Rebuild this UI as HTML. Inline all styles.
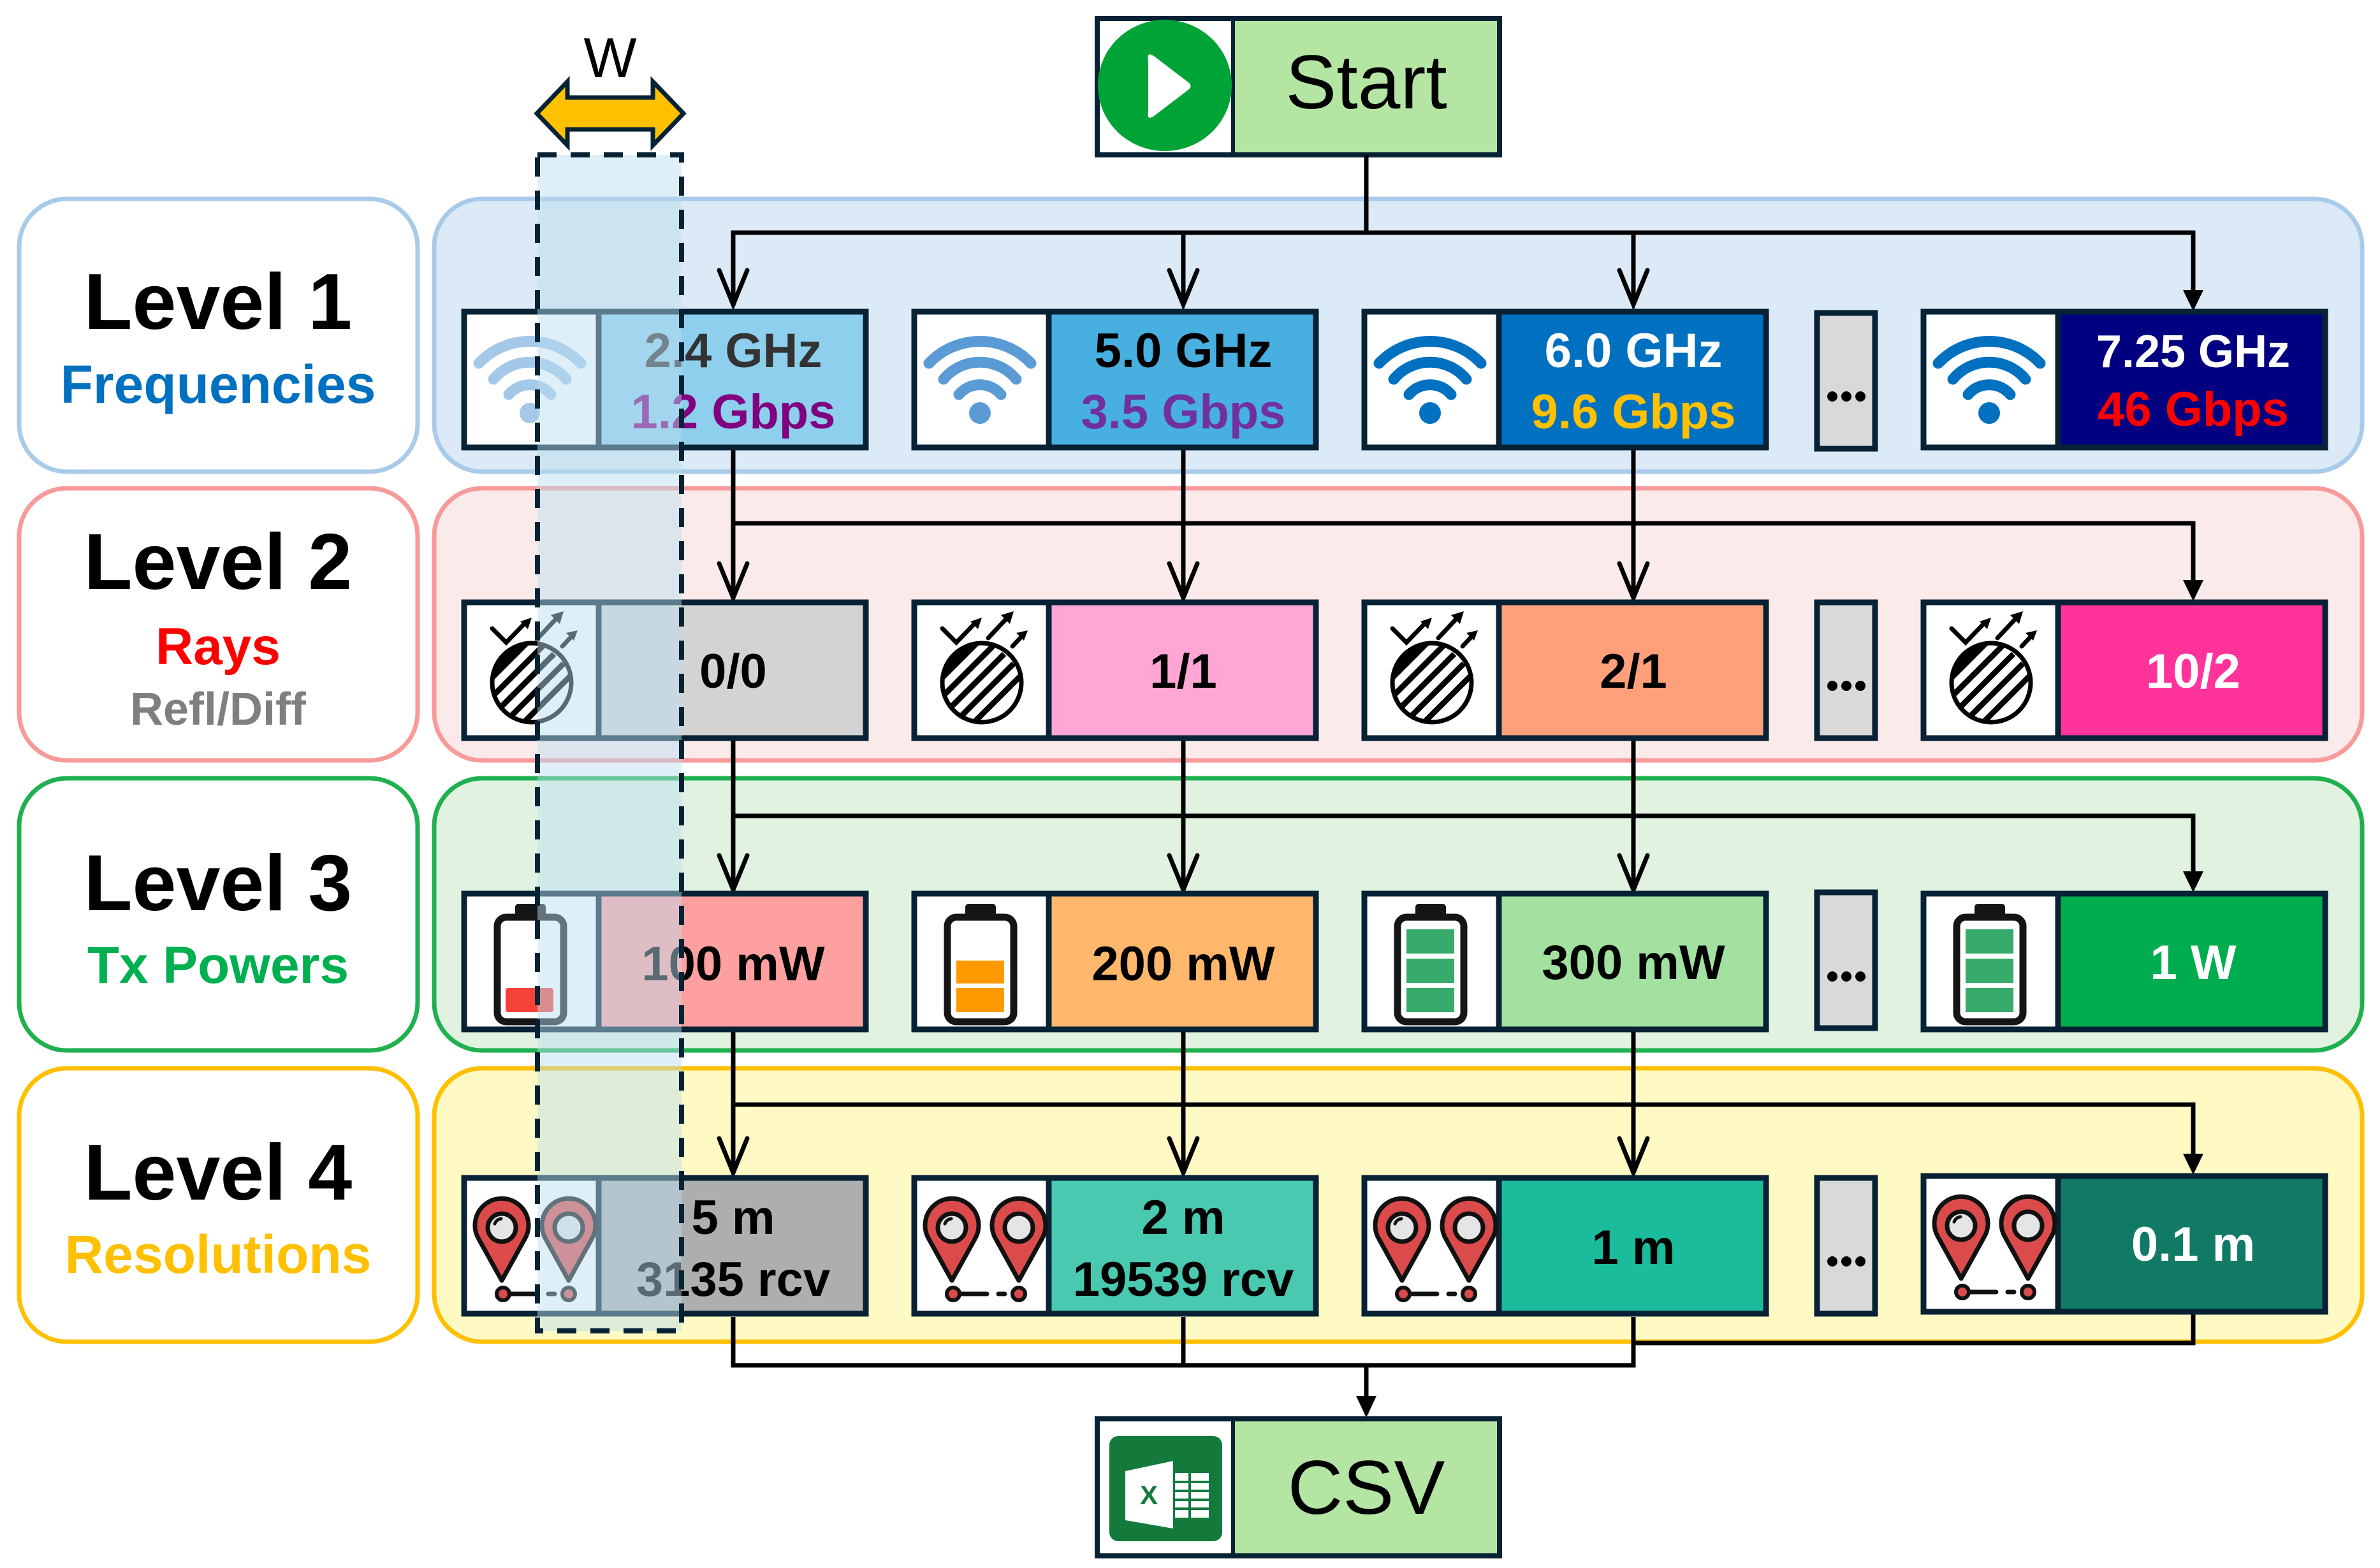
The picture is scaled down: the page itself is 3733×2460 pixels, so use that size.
<!DOCTYPE html>
<html><head><meta charset="utf-8"><style>
html,body{margin:0;padding:0;background:#fff}
svg{display:block}
text{font-family:"Liberation Sans",Arial,sans-serif}
</style></head><body>
<svg width="3733" height="2460" viewBox="0 0 3733 2460" xmlns="http://www.w3.org/2000/svg">
<defs>
<symbol id="wifiL" viewBox="0 0 215 220"><g fill="none" stroke="#a4c8e8" stroke-width="17" stroke-linecap="round"><path d="M27,85 A110,110 0 0 1 187,85"/><path d="M50,110 A74,74 0 0 1 164,110"/><path d="M74,134 A43,43 0 0 1 140,134"/></g><circle cx="107" cy="163" r="16" fill="#a4c8e8"/></symbol>
<symbol id="wifiM" viewBox="0 0 215 220"><g fill="none" stroke="#5b9bd5" stroke-width="17" stroke-linecap="round"><path d="M27,85 A110,110 0 0 1 187,85"/><path d="M50,110 A74,74 0 0 1 164,110"/><path d="M74,134 A43,43 0 0 1 140,134"/></g><circle cx="107" cy="163" r="17" fill="#5b9bd5"/></symbol>
<symbol id="wifiD" viewBox="0 0 215 220"><g fill="none" stroke="#0070c0" stroke-width="17" stroke-linecap="round"><path d="M27,85 A110,110 0 0 1 187,85"/><path d="M50,110 A74,74 0 0 1 164,110"/><path d="M74,134 A43,43 0 0 1 140,134"/></g><circle cx="107" cy="163" r="17" fill="#0070c0"/></symbol>
<symbol id="rays" viewBox="0 0 215 220">
<clipPath id="cc"><circle cx="110" cy="130" r="62"/></clipPath>
<circle cx="110" cy="130" r="62" fill="#fff"/>
<g clip-path="url(#cc)" stroke="#000" stroke-width="9"><path d="M30,140 L110,60 M40,160 L130,70 M50,180 L145,85 M65,195 L160,100 M80,210 L175,115"/><path d="M20,120 L100,40" stroke-width="40"/></g>
<circle cx="110" cy="130" r="62" fill="none" stroke="#000" stroke-width="7"/>
<g stroke="#000" stroke-width="7" fill="none" stroke-linecap="round"><path d="M48,45 L70,67 L98,38"/><path d="M120,60 L150,28"/><path d="M158,73 L172,58"/></g>
<g fill="#000"><path d="M110,28 L92,34 L104,46Z"/><path d="M160,18 L140,24 L154,38Z"/><path d="M182,48 L164,52 L176,64Z"/></g>
</symbol>
<symbol id="pins" viewBox="0 0 215 220">
<g stroke="#111" stroke-width="7" stroke-linejoin="round"><path d="M63,165 L27,100 A42,42 0 1 1 99,100 Z" fill="#dc4b4b"/><path d="M168,165 L132,100 A42,42 0 1 1 204,100 Z" fill="#dc4b4b"/><circle cx="63" cy="82" r="22" fill="#e5e5e5"/><circle cx="168" cy="82" r="22" fill="#e5e5e5"/></g>
<path d="M52,76 A12,12 0 0 1 62,68" stroke="#111" stroke-width="5" fill="none" stroke-linecap="round"/>
<g stroke="#111" stroke-width="7" stroke-linecap="round"><path d="M70,186 L118,186"/><path d="M136,186 L146,186"/></g>
<circle cx="65" cy="186" r="10" fill="#dc4b4b" stroke="#111" stroke-width="6"/><circle cx="168" cy="186" r="10" fill="#dc4b4b" stroke="#111" stroke-width="6"/>
</symbol>
<symbol id="bat" viewBox="0 0 215 220"><rect x="84" y="20" width="48" height="26" rx="5" fill="#151515"/><rect x="56" y="41" width="104" height="164" rx="14" fill="#fff" stroke="#151515" stroke-width="11"/></symbol>
</defs>

<!-- Start -->
<rect x="1721" y="29" width="631" height="214" fill="#b4e5a2" stroke="#072235" stroke-width="8"/>
<rect x="1725" y="33" width="209" height="206" fill="#fff"/>
<line x1="1934" y1="29" x2="1934" y2="243" stroke="#072235" stroke-width="6"/>
<ellipse cx="1827" cy="134" rx="105" ry="103" fill="#00a335"/>
<path d="M1801,95 Q1798,80 1810,88 L1865,130 Q1870,135 1865,140 L1810,182 Q1798,190 1801,175Z" fill="#fff"/>
<text x="2143" y="170" font-size="120" text-anchor="middle" fill="#000">Start</text>

<!-- Left labels -->
<g stroke-width="7">
<rect x="30" y="312" width="625" height="428" rx="75" fill="#fff" stroke="#a9cbea"/>
<rect x="30" y="766" width="625" height="427" rx="75" fill="#fff" stroke="#f89a9a"/>
<rect x="30" y="1221" width="625" height="427" rx="75" fill="#fff" stroke="#1fb050"/>
<rect x="30" y="1676" width="625" height="429" rx="75" fill="#fff" stroke="#ffc000"/>
</g>
<g font-weight="bold" text-anchor="middle">
<text x="342" y="516" font-size="124" fill="#000">Level 1</text>
<text x="342" y="632" font-size="84" fill="#0070c0">Frequencies</text>
<text x="342" y="924" font-size="124" fill="#000">Level 2</text>
<text x="342" y="1042" font-size="82" fill="#ff0000">Rays</text>
<text x="342" y="1137" font-size="72" fill="#7f7f7f">Refl/Diff</text>
<text x="342" y="1428" font-size="124" fill="#000">Level 3</text>
<text x="342" y="1542" font-size="82" fill="#00b050">Tx Powers</text>
<text x="342" y="1882" font-size="124" fill="#000">Level 4</text>
<text x="342" y="1997" font-size="84" fill="#ffc000">Resolutions</text>
</g>

<!-- Right panels -->
<g stroke-width="7">
<rect x="681" y="312" width="3024" height="428" rx="75" fill="#dce9f6" stroke="#a9cbea"/>
<rect x="681" y="766" width="3024" height="427" rx="75" fill="#fbeaea" stroke="#f89a9a"/>
<rect x="681" y="1221" width="3024" height="427" rx="75" fill="#e1f3e0" stroke="#1fb050"/>
<rect x="681" y="1676" width="3024" height="429" rx="75" fill="#fff9c4" stroke="#ffc000"/>
</g>

<!-- Connectors -->
<g stroke="#000" stroke-width="7" fill="none">
<path d="M2143,243 V365"/>
<path d="M1150,480 V365 H3440 V478"/>
<path d="M1856,365 V478 M2562,365 V478"/>
<path d="M1150,705 V935 M1150,821 H3440 V933 M1856,705 V935 M2562,705 V935"/>
<path d="M1150,1160 V1392 M1150,1280 H3440 V1390 M1856,1160 V1392 M2562,1160 V1392"/>
<path d="M1150,1618 V1838 M1150,1733 H3440 V1835 M1856,1618 V1838 M2562,1618 V1838"/>
<path d="M1150,2066 V2142 H2562 V2066 M1856,2066 V2142 M2562,2107 H3440 V2060 M2143,2142 V2218"/>
</g>
<g stroke="#000" stroke-width="7" fill="none" stroke-linecap="round">
<path d="M1128,424 L1150,478 L1172,424 M1834,424 L1856,478 L1878,424 M2540,424 L2562,478 L2584,424"/>
<path d="M1128,884 L1150,938 L1172,884 M1834,884 L1856,938 L1878,884 M2540,884 L2562,938 L2584,884"/>
<path d="M1128,1342 L1150,1396 L1172,1342 M1834,1342 L1856,1396 L1878,1342 M2540,1342 L2562,1396 L2584,1342"/>
<path d="M1128,1786 L1150,1840 L1172,1786 M1834,1786 L1856,1840 L1878,1786 M2540,1786 L2562,1840 L2584,1786"/>
</g>
<g fill="#000">
<path d="M3424,455 L3456,455 L3440,488Z"/>
<path d="M3424,910 L3456,910 L3440,943Z"/>
<path d="M3424,1367 L3456,1367 L3440,1400Z"/>
<path d="M3424,1810 L3456,1810 L3440,1843Z"/>
<path d="M2127,2190 L2159,2190 L2143,2224Z"/>
</g>

<g stroke="#072235" stroke-width="9">
<rect x="728" y="489" width="630" height="213" fill="#8ecfed"/><rect x="1434" y="489" width="630" height="213" fill="#48b0e0"/><rect x="2140" y="489" width="630" height="213" fill="#0070c0"/><rect x="3017" y="489" width="630" height="213" fill="#000080"/>
<rect x="2850" y="491" width="91" height="213" fill="#d9d9d9"/>
<rect x="728" y="945" width="630" height="213" fill="#d3d3d3"/><rect x="1434" y="945" width="630" height="213" fill="#ffa6d4"/><rect x="2140" y="945" width="630" height="213" fill="#ffa07a"/><rect x="3017" y="945" width="630" height="213" fill="#ff3399"/>
<rect x="2850" y="945" width="91" height="213" fill="#d9d9d9"/>
<rect x="728" y="1402" width="630" height="213" fill="#ffa0a0"/><rect x="1434" y="1402" width="630" height="213" fill="#ffb86b"/><rect x="2140" y="1402" width="630" height="213" fill="#a3e1a0"/><rect x="3017" y="1402" width="630" height="213" fill="#00ad4e"/>
<rect x="2850" y="1400" width="91" height="213" fill="#d9d9d9"/>
<rect x="728" y="1848" width="630" height="213" fill="#aeaeae"/><rect x="1434" y="1848" width="630" height="213" fill="#48c9b0"/><rect x="2140" y="1848" width="630" height="213" fill="#1abc9c"/><rect x="3017" y="1845" width="630" height="213" fill="#117a65"/>
<rect x="2850" y="1848" width="91" height="213" fill="#d9d9d9"/>
</g>
<g fill="#fff" stroke="#072235" stroke-width="9">
<rect x="728" y="489" width="211" height="213"/><rect x="1434" y="489" width="211" height="213"/><rect x="2140" y="489" width="211" height="213"/><rect x="3017" y="489" width="211" height="213"/>
<rect x="728" y="945" width="211" height="213"/><rect x="1434" y="945" width="211" height="213"/><rect x="2140" y="945" width="211" height="213"/><rect x="3017" y="945" width="211" height="213"/>
<rect x="728" y="1402" width="211" height="213"/><rect x="1434" y="1402" width="211" height="213"/><rect x="2140" y="1402" width="211" height="213"/><rect x="3017" y="1402" width="211" height="213"/>
<rect x="728" y="1848" width="211" height="213"/><rect x="1434" y="1848" width="211" height="213"/><rect x="2140" y="1848" width="211" height="213"/><rect x="3017" y="1845" width="211" height="213"/>
</g>
<use href="#wifiL" x="724" y="485" width="215" height="220"/>
<use href="#wifiM" x="1430" y="485" width="215" height="220"/>
<use href="#wifiD" x="2136" y="485" width="215" height="220"/>
<use href="#wifiD" x="3013" y="485" width="215" height="220"/>
<use href="#rays" x="724" y="941" width="215" height="220"/>
<use href="#rays" x="1430" y="941" width="215" height="220"/>
<use href="#rays" x="2136" y="941" width="215" height="220"/>
<use href="#rays" x="3013" y="941" width="215" height="220"/>
<use href="#bat" x="724" y="1398" width="215" height="220"/>
<use href="#bat" x="1430" y="1398" width="215" height="220"/>
<use href="#bat" x="2136" y="1398" width="215" height="220"/>
<use href="#bat" x="3013" y="1398" width="215" height="220"/>
<rect x="793" y="1550" width="75" height="38" rx="4" fill="#f44336"/>
<rect x="1500" y="1507" width="75" height="36" fill="#ff9900"/><rect x="1500" y="1550" width="75" height="38" fill="#ff9900"/>
<g fill="#36ab6a"><rect x="2206" y="1458" width="75" height="38"/><rect x="2206" y="1504" width="75" height="38"/><rect x="2206" y="1550" width="75" height="38"/>
<rect x="3083" y="1458" width="75" height="38"/><rect x="3083" y="1504" width="75" height="38"/><rect x="3083" y="1550" width="75" height="38"/></g>
<use href="#pins" x="724" y="1844" width="215" height="220"/>
<use href="#pins" x="1430" y="1844" width="215" height="220"/>
<use href="#pins" x="2136" y="1844" width="215" height="220"/>
<use href="#pins" x="3013" y="1841" width="215" height="220"/>

<g fill="#000">
<circle cx="2874" cy="622" r="8"/><circle cx="2896" cy="622" r="8"/><circle cx="2918" cy="622" r="8"/>
<circle cx="2874" cy="1076" r="8"/><circle cx="2896" cy="1076" r="8"/><circle cx="2918" cy="1076" r="8"/>
<circle cx="2874" cy="1532" r="8"/><circle cx="2896" cy="1532" r="8"/><circle cx="2918" cy="1532" r="8"/>
<circle cx="2874" cy="1979" r="8"/><circle cx="2896" cy="1979" r="8"/><circle cx="2918" cy="1979" r="8"/>
</g>

<g font-weight="bold" font-size="76" text-anchor="middle">
<text x="1150" y="576" fill="#333">2.4 GHz</text><text x="1150" y="672" fill="#800080">1.2 Gbps</text>
<text x="1856" y="576" fill="#000">5.0 GHz</text><text x="1856" y="672" fill="#7030a0">3.5 Gbps</text>
<text x="2562" y="576" fill="#fff">6.0 GHz</text><text x="2562" y="672" fill="#ffc000">9.6 Gbps</text>
<text x="3440" y="576" font-size="72" fill="#fff">7.25 GHz</text><text x="3440" y="668" fill="#ff0000">46 Gbps</text>
<text x="1150" y="1079" fill="#000">0/0</text><text x="1856" y="1079" fill="#000">1/1</text><text x="2562" y="1079" fill="#000">2/1</text><text x="3440" y="1079" fill="#fff">10/2</text>
<text x="1150" y="1538" fill="#000">100 mW</text><text x="1856" y="1538" fill="#000">200 mW</text><text x="2562" y="1536" fill="#000">300 mW</text><text x="3440" y="1536" fill="#fff">1 W</text>
<text x="1150" y="1936" fill="#000">5 m</text><text x="1150" y="2033" fill="#000">3135 rcv</text>
<text x="1856" y="1936" fill="#000">2 m</text><text x="1856" y="2033" fill="#000">19539 rcv</text>
<text x="2562" y="1983" fill="#000">1 m</text><text x="3440" y="1978" fill="#fff">0.1 m</text>
</g>

<!-- CSV -->
<rect x="1721" y="2226" width="631" height="215" fill="#b4e5a2" stroke="#072235" stroke-width="8"/>
<rect x="1725" y="2230" width="209" height="207" fill="#fff"/>
<line x1="1934" y1="2226" x2="1934" y2="2441" stroke="#072235" stroke-width="6"/>
<rect x="1740" y="2253" width="177" height="165" rx="14" fill="#137a3c"/>
<path d="M1765,2308 L1840,2292 L1840,2398 L1765,2385Z" fill="#fff"/>
<rect x="1843" y="2311" width="53" height="70" fill="#fff"/>
<g stroke="#137a3c" stroke-width="4"><path d="M1843,2325 H1896 M1843,2339 H1896 M1843,2353 H1896 M1843,2367 H1896 M1866,2311 V2381"/></g>
<text x="1802" y="2360" font-size="42" font-weight="bold" text-anchor="middle" fill="#137a3c">X</text>
<text x="2143" y="2375" font-size="120" text-anchor="middle" fill="#000">CSV</text>

<!-- W overlay -->
<rect x="843" y="243" width="226" height="1845" fill="rgba(185,222,238,0.48)"/>
<rect x="843" y="243" width="226" height="1845" fill="none" stroke="#072235" stroke-width="8" stroke-dasharray="30,22"/>
<path d="M842,178 L890,128 L890,153 L1024,153 L1024,128 L1072,178 L1024,228 L1024,203 L890,203 L890,228Z" fill="#ffc000" stroke="#072235" stroke-width="7" stroke-linejoin="miter"/>
<text x="957" y="121" font-size="88" text-anchor="middle" fill="#000">W</text>
</svg>
</body></html>
